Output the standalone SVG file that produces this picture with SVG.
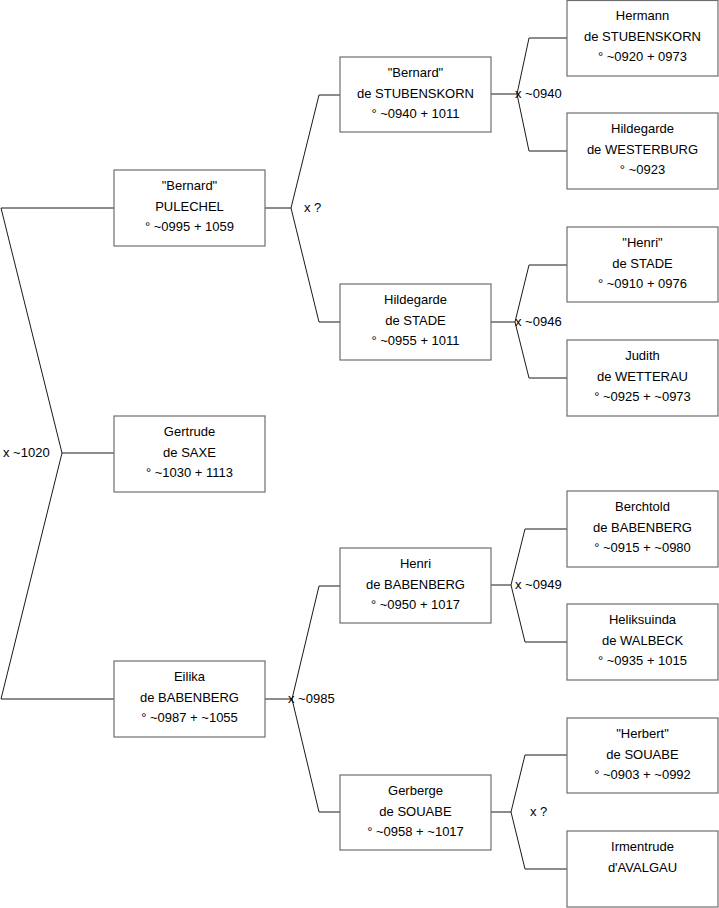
<svg xmlns="http://www.w3.org/2000/svg" width="719" height="908" viewBox="0 0 719 908">
<style>
.box{fill:#fff;stroke:#6e6e6e;stroke-width:1.2}
.ln{fill:none;stroke:#1a1a1a;stroke-width:1}
text{font-family:"Liberation Sans",Arial,sans-serif;font-size:13px;fill:#000}
.c{text-anchor:middle}
</style>
<rect width="719" height="908" fill="#fff"/>
<g id="connectors">
<path class="ln" d="M114,208 H1 L62,453 L1,699 H114 M62,453 H114"/>
<path class="ln" d="M265,208 H291 L319,95 H340 M291,208 L319,322 H340"/>
<path class="ln" d="M265,699 H292 L319,586 H340 M292,699 L319,812 H340"/>
<path class="ln" d="M491,94 H517 L529,38 H567 M517,94 L529,151 H567"/>
<path class="ln" d="M491,322 H515 L529,265 H567 M515,322 L529,378 H567"/>
<path class="ln" d="M491,585 H511 L525,529 H567 M511,585 L525,642 H567"/>
<path class="ln" d="M491,812 H511 L525,755 H567 M511,812 L525,869 H567"/>
<text x="3" y="457">x ~1020</text>
<text x="304" y="212">x ?</text>
<text x="288" y="703">x ~0985</text>
<text x="515" y="98">x ~0940</text>
<text x="515" y="326">x ~0946</text>
<text x="515" y="589">x ~0949</text>
<text x="530" y="816">x ?</text>
</g>
<g id="n1"><rect class="box" x="114" y="170" width="151" height="76"/><text class="c" x="189.5" y="190">"Bernard"</text><text class="c" x="189.5" y="211">PULECHEL</text><text class="c" x="189.5" y="231">° ~0995 + 1059</text></g>
<g id="n2"><rect class="box" x="114" y="416" width="151" height="76"/><text class="c" x="189.5" y="436">Gertrude</text><text class="c" x="189.5" y="457">de SAXE</text><text class="c" x="189.5" y="477">° ~1030 + 1113</text></g>
<g id="n3"><rect class="box" x="114" y="661" width="151" height="76"/><text class="c" x="189.5" y="681">Eilika</text><text class="c" x="189.5" y="702">de BABENBERG</text><text class="c" x="189.5" y="722">° ~0987 + ~1055</text></g>
<g id="n4"><rect class="box" x="340" y="57" width="151" height="75"/><text class="c" x="415.5" y="77">"Bernard"</text><text class="c" x="415.5" y="98">de STUBENSKORN</text><text class="c" x="415.5" y="118">° ~0940 + 1011</text></g>
<g id="n5"><rect class="box" x="340" y="284" width="151" height="76"/><text class="c" x="415.5" y="304">Hildegarde</text><text class="c" x="415.5" y="325">de STADE</text><text class="c" x="415.5" y="345">° ~0955 + 1011</text></g>
<g id="n6"><rect class="box" x="340" y="548" width="151" height="75"/><text class="c" x="415.5" y="568">Henri</text><text class="c" x="415.5" y="589">de BABENBERG</text><text class="c" x="415.5" y="609">° ~0950 + 1017</text></g>
<g id="n7"><rect class="box" x="340" y="775" width="151" height="75"/><text class="c" x="415.5" y="795">Gerberge</text><text class="c" x="415.5" y="816">de SOUABE</text><text class="c" x="415.5" y="836">° ~0958 + ~1017</text></g>
<g id="n8"><rect class="box" x="567" y="0.5" width="151" height="75.5"/><text class="c" x="642.5" y="20">Hermann</text><text class="c" x="642.5" y="41">de STUBENSKORN</text><text class="c" x="642.5" y="61">° ~0920 + 0973</text></g>
<g id="n9"><rect class="box" x="567" y="113" width="151" height="76"/><text class="c" x="642.5" y="133">Hildegarde</text><text class="c" x="642.5" y="154">de WESTERBURG</text><text class="c" x="642.5" y="174">° ~0923</text></g>
<g id="n10"><rect class="box" x="567" y="227" width="151" height="75"/><text class="c" x="642.5" y="247">"Henri"</text><text class="c" x="642.5" y="268">de STADE</text><text class="c" x="642.5" y="288">° ~0910 + 0976</text></g>
<g id="n11"><rect class="box" x="567" y="340" width="151" height="76"/><text class="c" x="642.5" y="360">Judith</text><text class="c" x="642.5" y="381">de WETTERAU</text><text class="c" x="642.5" y="401">° ~0925 + ~0973</text></g>
<g id="n12"><rect class="box" x="567" y="491" width="151" height="76"/><text class="c" x="642.5" y="511">Berchtold</text><text class="c" x="642.5" y="532">de BABENBERG</text><text class="c" x="642.5" y="552">° ~0915 + ~0980</text></g>
<g id="n13"><rect class="box" x="567" y="604" width="151" height="76"/><text class="c" x="642.5" y="624">Heliksuinda</text><text class="c" x="642.5" y="645">de WALBECK</text><text class="c" x="642.5" y="665">° ~0935 + 1015</text></g>
<g id="n14"><rect class="box" x="567" y="718" width="151" height="75"/><text class="c" x="642.5" y="738">"Herbert"</text><text class="c" x="642.5" y="759">de SOUABE</text><text class="c" x="642.5" y="779">° ~0903 + ~0992</text></g>
<g id="n15"><rect class="box" x="567" y="831" width="151" height="76"/><text class="c" x="642.5" y="851">Irmentrude</text><text class="c" x="642.5" y="872">d'AVALGAU</text></g>
</svg>
